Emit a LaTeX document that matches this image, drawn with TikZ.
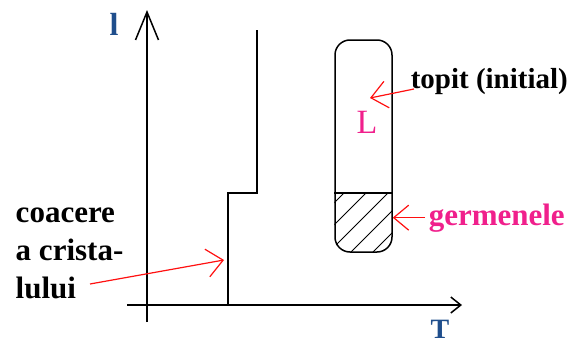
\documentclass[tikz,border=0pt]{standalone}
\usepackage{fontspec}
\setmainfont{Liberation Serif}
\usetikzlibrary{arrows.meta, positioning}
\definecolor{cblue}{HTML}{1F4E8C}
\definecolor{cpink}{HTML}{F0208C}
\definecolor{cred}{HTML}{FF1010}
\tikzset{
  bigtext/.style={font=\fontsize{31}{38}\selectfont\bfseries, inner sep=0pt, align=left},
  axlabel/.style={font=\fontsize{32}{36}\selectfont\bfseries, text=cblue, inner sep=0pt},
  yaxis/.style={-{Straight Barb[length=28pt, width=23pt]}},
  xaxis/.style={-{Straight Barb[length=10pt, width=16pt]}},
  pointer/.style={draw=cred, line width=1.2pt, -{Straight Barb[length=#1]}},
  pointer/.default={16pt, width=28pt},
  hatch/.style={line width=1pt},
}

\begin{document}
\begin{tikzpicture}[x=1pt, y=-1pt, line width=1.5pt]
  \useasboundingbox (0,0) rectangle (574,351);
  % axes
  \coordinate (ybot) at (147,322);
  \coordinate (ytop) at (147,10);
  \coordinate (xleft) at (127,305);
  \coordinate (xright) at (462,305);
  \draw[yaxis] (ybot) -- (ytop);
  \draw[xaxis] (xleft) -- (xright);
  \node[axlabel, anchor=base] (l) at (114,35) {l};
  \node[axlabel, font=\fontsize{28}{32}\selectfont\bfseries, anchor=base] (T) at (440,338) {T};
  % step curve
  \coordinate (s0) at (228,305);
  \coordinate (s1) at (257,193);
  \coordinate (s2) at (257,30);
  \draw (s0) |- (s1) -- (s2);
  % tube with seeds at the bottom
  \node[draw, rounded corners=15pt, minimum width=57pt, minimum height=212pt, inner sep=0pt] (tube) at (363.5,146) {};
  \coordinate (cut) at (363.5,193);
  \draw (tube.west |- cut) -- (tube.east |- cut);
  \begin{scope}
    \clip (tube.west |- cut) rectangle (tube.south east);
    \clip[rounded corners=15pt] (tube.north west) rectangle (tube.south east);
    \foreach \i in {-50,-28,...,50}
      \draw[hatch] (335+\i,252) -- ++(60,-60);
  \end{scope}
  \node[font=\fontsize{34}{38}\selectfont, text=cpink, inner sep=0pt, anchor=base] (L) at (367,133) {L};
  % labels and pointers
  \node[bigtext, font=\fontsize{29}{36}\selectfont\bfseries, anchor=base west] (topit) at (410,88) {topit (initial)};
  \coordinate (topitend) at (370,98);
  \draw[pointer={16pt, width=27pt}] ([xshift=4pt,yshift=-1pt]topit.base west) -- (topitend);
  \node[bigtext, text=cpink, anchor=base west] (germ) at (428,225) {germenele};
  \draw[pointer={15pt, width=25pt}] ([xshift=-3pt]germ.west) -- (germ.west -| tube.east);
  \node[bigtext, anchor=base west] (coac) at (15,298) {coacere\\a crista-\\lului};
  \coordinate (coacstart) at (90,284);
  \coordinate (coacend) at (224,260);
  \draw[pointer] (coacstart) -- (coacend);
\end{tikzpicture}
\end{document}
